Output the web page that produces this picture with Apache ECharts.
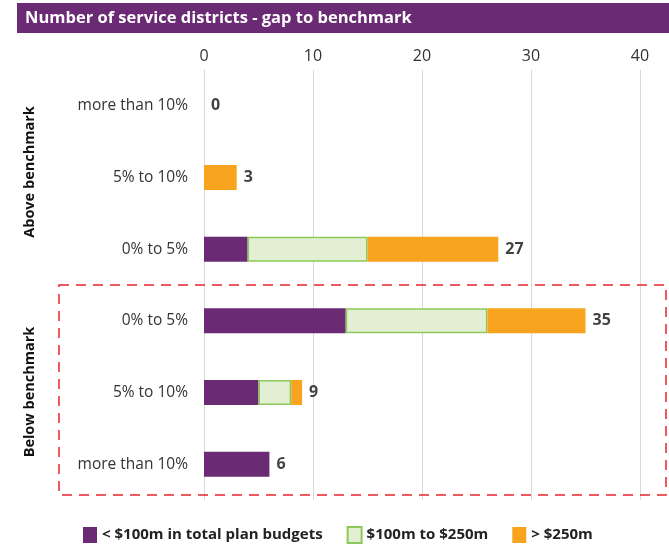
<!DOCTYPE html>
<html><head><meta charset="utf-8">
<script src="https://cdn.jsdelivr.net/npm/echarts@6/dist/echarts.min.js"></script>
<style>html,body{margin:0;padding:0;background:#fff}#c{width:669px;height:548px}</style>
</head><body><div id="c"></div>
<script>
const categories = ['more than 10%', '5% to 10%', '0% to 5%', '0% to 5%', '5% to 10%', 'more than 10%'];
const groups = ['Above benchmark', 'Below benchmark'];
const under100 = [0, 0, 4, 13, 5, 6];
const mid100to250 = [0, 0, 11, 13, 3, 0];
const over250 = [0, 3, 12, 9, 1, 0];
const seriesNames = ['< $100m in total plan budgets', '$100m to $250m', '> $250m'];
const xTicks = [0, 10, 20, 30, 40];
const totals = categories.map((c, i) => under100[i] + mid100to250[i] + over250[i]);
const nz = (arr) => arr.map(v => (v === 0 ? null : v));

const FONT = 'Open Sans';
const chart = echarts.init(document.getElementById('c'), null, {renderer: 'canvas'});
chart.setOption({
  animation: false,
  textStyle: {fontFamily: FONT},
  grid: {left: 204, right: 29, top: 70, bottom: 48},
  xAxis: {
    type: 'value', position: 'top', min: xTicks[0], max: xTicks[xTicks.length - 1], interval: 10,
    axisLine: {show: false}, axisTick: {show: false},
    axisLabel: {fontSize: 16, color: '#333', margin: 6, fontFamily: FONT},
    splitLine: {lineStyle: {color: '#d9d9d9', width: 1}}
  },
  yAxis: {
    type: 'category', inverse: true, data: categories.map((c, i) => 'k' + i),
    axisLine: {show: true, lineStyle: {color: '#d9d9d9'}}, axisTick: {show: false},
    axisLabel: {fontSize: 15.5, color: '#333', margin: 16, fontFamily: FONT,
      formatter: (v) => categories[+v.slice(1)]}
  },
  legend: {
    left: 78, top: 521, itemWidth: 14, itemHeight: 16, itemGap: 24,
    textStyle: {fontSize: 15, fontWeight: 'bold', color: '#222', fontFamily: FONT},
    data: seriesNames.map(n => ({name: n, icon: 'rect'}))
  },
  series: [
    {name: seriesNames[0], type: 'bar', stack: 's', barWidth: 25, data: nz(under100),
      itemStyle: {color: '#6b2a74'}},
    {name: seriesNames[1], type: 'bar', stack: 's', barWidth: 25, data: nz(mid100to250),
      itemStyle: {color: '#e2efd3', borderColor: '#8dc95a', borderWidth: 1.5}},
    {name: seriesNames[2], type: 'bar', stack: 's', barWidth: 25, data: nz(over250),
      itemStyle: {color: '#f8a41e'}},
    {name: 'total', type: 'scatter', symbolSize: 0, silent: true,
      data: totals.map((t, i) => [t, i]),
      label: {show: true, position: 'right', distance: 7, fontSize: 16, fontWeight: 'bold', color: '#111',
        fontFamily: FONT, formatter: (p) => String(p.value[0])}}
  ],
  graphic: [
    {type: 'rect', shape: {x: 17, y: 3, width: 652, height: 30}, style: {fill: '#6b2a74'}},
    {type: 'text', x: 25, y: 18, style: {text: 'Number of service districts - gap to benchmark', fill: '#fff',
      font: 'bold 16.5px "' + FONT + '"', textVerticalAlign: 'middle'}},
    {type: 'text', x: 30, y: 172, rotation: Math.PI / 2, style: {text: groups[0], fill: '#111',
      font: 'bold 14.5px "' + FONT + '"', textAlign: 'center', textVerticalAlign: 'middle'}},
    {type: 'text', x: 30, y: 392, rotation: Math.PI / 2, style: {text: groups[1], fill: '#111',
      font: 'bold 14.5px "' + FONT + '"', textAlign: 'center', textVerticalAlign: 'middle'}},
    {type: 'rect', shape: {x: 59, y: 285, width: 607, height: 210}, z: 10,
      style: {fill: 'none', stroke: '#e8242c', lineWidth: 1.5, lineDash: [10, 7]}}
  ]
});
</script></body></html>
